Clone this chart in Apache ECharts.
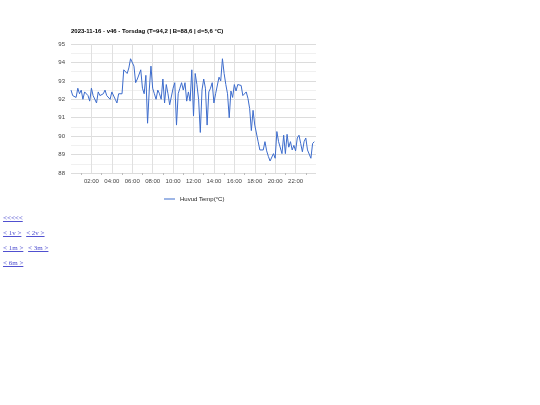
<!DOCTYPE html>
<html><head><meta charset="utf-8">
<script src="https://cdn.jsdelivr.net/npm/echarts@6/dist/echarts.min.js"></script>
<style>
html,body{margin:0;padding:0;background:#fff;}
#chart{position:absolute;left:0;top:0;width:540px;height:405px;}
.links{position:absolute;left:3px;font-family:"Liberation Serif",serif;font-size:7px;line-height:8px;}
.links a{color:#5050d0;text-decoration:underline;margin-right:3px;}
</style></head>
<body>
<div id="chart"></div>
<div class="links" style="top:214px"><a href="#">&lt;&lt;&lt;&lt;&lt;</a></div>
<div class="links" style="top:229px"><a href="#">&lt; 1v &gt;</a> <a href="#">&lt; 2v &gt;</a></div>
<div class="links" style="top:244px"><a href="#">&lt; 1m &gt;</a> <a href="#">&lt; 3m &gt;</a></div>
<div class="links" style="top:259px"><a href="#">&lt; 6m &gt;</a></div>
<script>
const titleText = "2023-11-16 - v46 - Torsdag (T=94,2 | B=88,6 | d=5,6 °C)";
const seriesName = "Huvud Temp(°C)";
// 10-minute samples, hour by hour
const temps = [
  92.5, 92.2, 92.3, 92.1, 92.6, 92.3,
  92.5, 92.0, 92.4, 92.3, 92.2, 91.9,
  92.6, 92.2, 92.1, 91.8, 92.4, 92.2,
  92.3, 92.3, 92.5, 92.2, 92.1, 92.0,
  92.4, 92.5, 92.0, 91.8, 92.3, 92.2,
  92.3, 93.6, 93.5, 93.4, 93.7, 94.2,
  94.1, 93.8, 92.9, 93.1, 93.1, 93.6,
  92.6, 92.3, 93.3, 90.7, 92.5, 93.8,
  92.6, 92.3, 92.0, 92.5, 92.3, 92.0,
  93.1, 91.8, 92.8, 92.3, 91.7, 91.6,
  92.6, 92.9, 90.6, 92.3, 92.6, 92.9,
  92.5, 92.9, 91.9, 92.4, 91.9, 93.6,
  91.1, 93.4, 92.8, 92.0, 90.2, 92.5,
  93.1, 92.6, 90.6, 92.4, 92.6, 92.9,
  91.8, 92.3, 92.2, 93.2, 93.0, 94.2,
  93.4, 92.8, 92.3, 91.0, 92.45, 92.1,
  92.8, 92.45, 92.8, 92.7, 92.75, 92.2,
  92.3, 92.4, 92.05, 91.5, 90.3, 91.4,
  90.6, 90.6, 89.7, 89.25, 89.25, 89.25,
  89.7, 89.2, 88.9, 88.65, 88.6, 89.05,
  88.8, 90.25, 89.7, 89.7, 89.05, 90.05,
  89.05, 90.1, 89.4, 89.7, 89.25, 89.5,
  89.2, 89.9, 90.05, 89.6, 89.15, 89.7,
  89.9, 89.25, 89.35, 88.8, 89.6, 89.7
];
const stepMinutes = 10;
const yMin = 88, yMax = 95;

const data = temps.map((v, i) => [i * stepMinutes / 60, v]);
const pad = n => (n < 10 ? "0" : "") + n;

const chart = echarts.init(document.getElementById('chart'), null, {renderer: 'canvas'});
chart.setOption({
  animation: false,
  textStyle: {fontFamily: '"Liberation Sans", Arial, sans-serif'},
  title: {
    text: titleText, left: 66, top: 23,
    textStyle: {fontSize: 6, fontWeight: 'bold', color: '#000', fontFamily: '"Liberation Sans", Arial, sans-serif'}
  },
  legend: {
    data: [seriesName], left: 159, top: 191, itemWidth: 11, itemHeight: 1,
    itemGap: 4, icon: 'rect',
    textStyle: {fontSize: 6, color: '#222'}
  },
  grid: {left: 71, right: 224, top: 44, bottom: 232, containLabel: false},
  xAxis: {
    type: 'value', min: 0, max: 24, interval: 2,
    axisLine: {show: false},
    axisTick: {show: false},
    minorTick: {show: true, splitNumber: 2, length: 2, lineStyle: {color: '#bbb'}},
    splitLine: {show: true, showMinLine: false, showMaxLine: false, lineStyle: {color: '#e0e0e0', width: 1}},
    axisLabel: {
      fontSize: 6, color: '#444', margin: 5,
      formatter: v => (v === 0 || v === 24) ? '' : pad(v) + ':00'
    }
  },
  yAxis: {
    type: 'value', min: yMin, max: yMax, interval: 1,
    axisLine: {show: false}, axisTick: {show: false},
    splitLine: {lineStyle: {color: '#dcdcdc', width: 1}},
    minorSplitLine: {show: true, lineStyle: {color: '#f0f0f0'}},
    minorTick: {show: false, splitNumber: 2},
    axisLabel: {fontSize: 6, color: '#444', margin: 6}
  },
  series: [{
    name: seriesName, type: 'line', data: data, showSymbol: false,
    lineStyle: {color: '#3d6ccc', width: 1}, itemStyle: {color: '#3d6ccc'}
  }]
});
</script>
</body></html>
